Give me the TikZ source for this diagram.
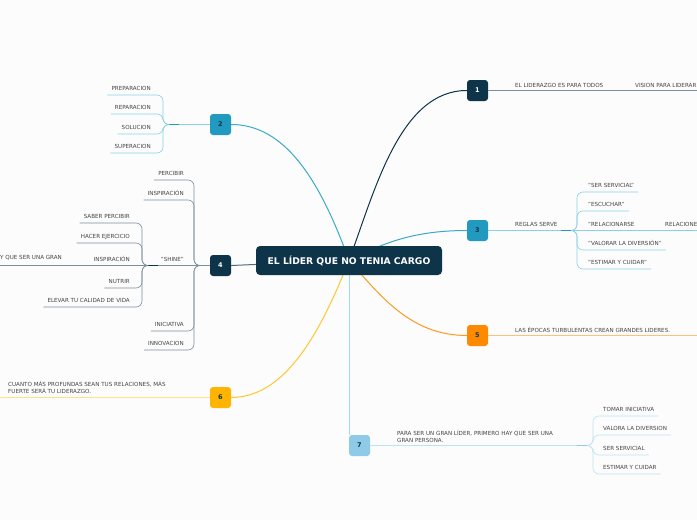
\documentclass[tikz,border=0pt]{standalone}
\usepackage{fontspec}
\setmainfont{DejaVu Sans}
\definecolor{bgc}{HTML}{FCFCFC}
\definecolor{darkc}{HTML}{0E3449}
\definecolor{tealc}{HTML}{2299BF}
\definecolor{tealcurve}{HTML}{3AAACB}
\definecolor{orangec}{HTML}{FF8A00}
\definecolor{orangecurve}{HTML}{FF9A1F}
\definecolor{yellowc}{HTML}{FFB400}
\definecolor{yellowcurve}{HTML}{FFC62E}
\definecolor{lbluec}{HTML}{8FCBE8}
\definecolor{lbluecurve}{HTML}{A5D8EE}
\definecolor{slateln}{HTML}{7A909E}
\definecolor{tealln}{HTML}{8CD0E5}
\definecolor{orangeln}{HTML}{FFC07A}
\definecolor{yellowln}{HTML}{FFE08F}
\definecolor{lblueln}{HTML}{BDE3F3}
\definecolor{txtc}{HTML}{444444}
\begin{document}
\begin{tikzpicture}[x=1pt,y=-1pt,
  lbl/.style={font=\fontsize{5.6}{7}\selectfont, text=txtc, inner xsep=4pt, inner ysep=3.3pt, text height=4.1pt, text depth=0.7pt},
  mlbl/.style={font=\fontsize{5.6}{7}\selectfont, text=txtc, inner xsep=4pt, inner ysep=0pt, align=left},
  numbox/.style={minimum width=21pt, minimum height=21pt, rounded corners=3pt, inner sep=0pt, font=\fontsize{6.5}{7}\selectfont\bfseries},
  curveln/.style={line width=1pt},
  brln/.style={line width=0.6pt, rounded corners=6pt},
  thickseg/.style={line width=1.4pt}
]
\useasboundingbox (0,0) rectangle (697,520);
\fill[bgc] (0,0) rectangle (697,520);
\clip (0,0) rectangle (697,520);

% ---------- main nodes ----------
\coordinate (cc) at (349,260.5);
\node[numbox, fill=darkc, text=white] (n1) at (477.5,90.5) {1};
\node[numbox, fill=tealc, text=darkc] (n2) at (220.5,124.5) {2};
\node[numbox, fill=tealc, text=darkc] (n3) at (477.5,230.5) {3};
\node[numbox, fill=darkc, text=white] (n4) at (220.5,265.5) {4};
\node[numbox, fill=orangec, text=darkc] (n5) at (477.5,335.5) {5};
\node[numbox, fill=yellowc, text=darkc] (n6) at (220.5,397.5) {6};
\node[numbox, fill=lbluec, text=darkc] (n7) at (359.5,445.5) {7};

% ---------- curves from centre ----------
\draw[curveln, darkc] (cc) .. controls (375,190) and (400,90.5) .. (n1.west);
\draw[curveln, tealcurve] (cc) .. controls (320,180) and (285,124.5) .. (n2.east);
\draw[curveln, tealcurve] (cc) .. controls (380,245) and (410,230.5) .. (n3.west);
\draw[curveln, slateln!60!darkc] (cc) -- (n4.east);
\draw[curveln, orangecurve] (cc) .. controls (380,295) and (410,335.5) .. (n5.west);
\draw[curveln, yellowcurve] (cc) .. controls (325,320) and (290,397.5) .. (n6.east);
\draw[curveln, lbluecurve] (cc) -- (cc |- n7.north);

\node[fill=darkc, text=white, rounded corners=4pt, minimum width=186pt, minimum height=29pt,
      font=\fontsize{9.2}{10}\selectfont\bfseries] (c) at (cc) {EL LÍDER QUE NO TENIA CARGO};

% ---------- branch 1 ----------
\coordinate (e1) at (697,90.5);
\draw[line width=0.8pt, slateln] (n1.east) -- (e1);
\node[lbl, anchor=base west] (t1a) at (511,87.5) {EL LIDERAZGO ES PARA TODOS};
\node[lbl, anchor=base west] (t1b) at (631,87.5) {VISION PARA LIDERAR};

% ---------- branch 5 ----------
\coordinate (e5) at (697,335.5);
\draw[line width=0.8pt, orangeln] (n5.east) -- (e5);
\node[lbl, anchor=base west] (t5) at (511,332.5) {LAS ÉPOCAS TURBULENTAS CREAN GRANDES LIDERES.};

% ---------- branch 6 ----------
\coordinate (e6) at (0,397.5);
\draw[line width=0.8pt, yellowln] (n6.west) -- (e6);
\node[mlbl, anchor=base west] (t6) at (4,393) {CUANTO MÁS PROFUNDAS SEAN TUS RELACIONES, MÁS\\FUERTE SERÁ TU LIDERAZGO.};

% ---------- branch 3 ----------
\coordinate (j3) at (571,230.5);
\coordinate (v3) at (577,230.5);
\coordinate (e3) at (697,230.5);
\draw[line width=0.7pt, tealln] (n3.east) -- (j3);
\draw[thickseg, tealc] (j3) -- ++(-10,0);
\node[lbl, anchor=base west] (t3) at (511,226.5) {REGLAS SERVE};
\node[lbl, anchor=south west] (c31) at (584,192) {"SER SERVICIAL"};
\node[lbl, anchor=south west] (c32) at (584,211) {"ESCUCHAR"};
\node[lbl, anchor=base west] (c33) at (584,226.5) {"RELACIONARSE};
\node[lbl, anchor=base west] (c33b) at (661,226.5) {RELACIONE};
\node[lbl, anchor=south west] (c34) at (584,250) {"VALORAR LA DIVERSIÓN"};
\node[lbl, anchor=south west] (c35) at (584,269) {"ESTIMAR Y CUIDAR"};
\draw[brln, tealln] (j3) -- (v3) -- (v3 |- c31.south west) -- (c31.south east);
\draw[brln, tealln] (j3) -- (v3) -- (v3 |- c32.south west) -- (c32.south east);
\draw[brln, tealln] (j3) -- (e3);
\draw[brln, tealln] (j3) -- (v3) -- (v3 |- c34.south west) -- (c34.south east);
\draw[brln, tealln] (j3) -- (v3) -- (v3 |- c35.south west) -- (c35.south east);

% ---------- branch 2 ----------
\coordinate (j2) at (169,124.5);
\coordinate (v2) at (163,124.5);
\draw[line width=0.7pt, tealln] (n2.west) -- (j2);
\draw[thickseg, tealc] (j2) -- ++(10,0);
\node[lbl, anchor=south east] (c21) at (155,95) {PREPARACION};
\node[lbl, anchor=south east] (c22) at (155,114) {REPARACION};
\node[lbl, anchor=south east] (c23) at (155,134) {SOLUCION};
\node[lbl, anchor=south east] (c24) at (155,153) {SUPERACION};
\foreach \k in {c21,c22,c23,c24}
  \draw[brln, tealln] (\k.south west) -- (\k.south west -| v2) -- (v2) -- (j2);

% ---------- branch 4 ----------
\coordinate (j4) at (200,265.5);
\coordinate (v4) at (194,265.5);
\coordinate (j4b) at (148,265.5);
\coordinate (v4b) at (142,265.5);
\coordinate (e4) at (0,265.5);
\draw[line width=0.7pt, slateln] (n4.west) -- (j4);
\node[lbl, anchor=south east] (c41) at (188,180) {PERCIBIR};
\node[lbl, anchor=south east] (c42) at (188,200) {INSPIRACIÓN};
\node[lbl, anchor=south east] (c43) at (188,265.5) {"SHINE"};
\node[lbl, anchor=south east] (c44) at (188,331) {INICIATIVA};
\node[lbl, anchor=south east] (c45) at (188,350) {INNOVACION};
\foreach \k in {c41,c42,c44,c45}
  \draw[brln, slateln] (\k.south west) -- (\k.south west -| v4) -- (v4) -- (j4);
\draw[brln, slateln] (j4) -- (j4b);
\draw[thickseg, darkc] (j4b) -- ++(10,0);
\node[lbl, anchor=south east] (s1) at (134,223) {SABER PERCIBIR};
\node[lbl, anchor=south east] (s2) at (134,243) {HACER EJERCICIO};
\node[lbl, anchor=south east] (s3) at (134,265.5) {INSPIRACIÓN};
\node[lbl, anchor=south east] (s4) at (134,288) {NUTRIR};
\node[lbl, anchor=south east] (s5) at (134,307) {ELEVAR TU CALIDAD DE VIDA};
\foreach \k in {s1,s2,s4,s5}
  \draw[brln, slateln] (\k.south west) -- (\k.south west -| v4b) -- (v4b) -- (j4b);
\draw[brln, slateln] (j4b) -- (e4);
\node[lbl, anchor=base west, inner xsep=0pt] (s3a) at (0,259) {Y QUE SER UNA GRAN};

% ---------- branch 7 ----------
\coordinate (j7) at (587,445.5);
\coordinate (v7) at (593,445.5);
\draw[line width=0.7pt, lblueln] (n7.east) -- (j7);
\draw[thickseg, lbluec] (j7) -- ++(-10,0);
\node[mlbl, anchor=base west] (t7) at (393,442) {PARA SER UN GRAN LÍDER, PRIMERO HAY QUE SER UNA\\GRAN PERSONA.};
\node[lbl, anchor=south west] (c71) at (599,416) {TOMAR INICIATIVA};
\node[lbl, anchor=south west] (c72) at (599,435) {VALORA LA DIVERSION};
\node[lbl, anchor=south west] (c73) at (599,455) {SER SERVICIAL};
\node[lbl, anchor=south west] (c74) at (599,474) {ESTIMAR Y CUIDAR};
\foreach \k in {c71,c72,c73,c74}
  \draw[brln, lblueln] (j7) -- (v7) -- (v7 |- \k.south west) -- (\k.south east);
\end{tikzpicture}
\end{document}
